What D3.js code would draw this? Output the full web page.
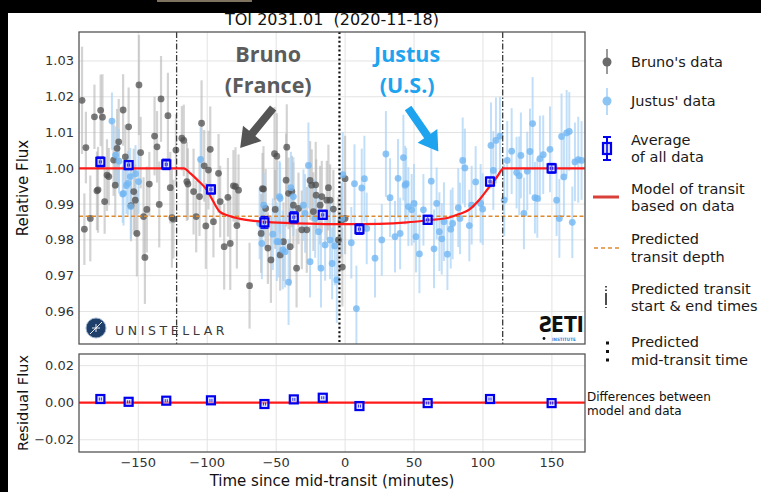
<!DOCTYPE html>
<html lang="en">
<head>
<meta charset="UTF-8">
<title>TOI 2031.01 (2020-11-18)</title>
<script src="https://d3js.org/d3.v7.min.js"></script>
<style>
    body { margin: 0; background: #fff; }
    svg { display: block; font-family: "DejaVu Sans", sans-serif; }
    .tick-label { font-size: 13px; fill: #333; }
    .legend-text { font-size: 14.5px; fill: #1a1a1a; }
    .grid { stroke: #e3e3e3; stroke-width: 1; }
    .frame { fill: none; stroke: #555; stroke-width: 1.3; }
</style>
</head>
<body>
<svg width="761" height="492"></svg>
<script>
    // Bruno's data (France)
    const brunoTime = [-190.8, -188.0, -189.1, -184.8, -181.8, -180.0, -179.2, -177.3, -176.0, -174.4,
        -172.7, -171.4, -167.9, -166.7, -165.4, -164.2, -161.0, -159.4, -157.0, -155.3,
        -153.3, -152.2, -151.0, -149.5, -148.3, -146.2, -145.2, -143.8, -142.0, -138.2,
        -136.4, -134.8, -133.5, -128.5, -126.8, -125.6, -124.5, -122.7, -118.4, -117.0,
        -114.8, -114.0, -109.9, -108.0, -105.6, -104.1, -102.2, -101.0, -99.1, -97.8,
        -95.5, -91.8, -90.6, -87.7, -85.0, -83.3, -81.0, -79.5, -78.5, -77.3,
        -69.3, -60.9, -59.9, -59.2, -57.6, -56.0, -53.8, -51.2, -50.7, -49.5,
        -47.1, -44.7, -42.8, -42.3, -41.0, -39.9, -38.6, -37.5, -35.2, -33.8,
        -31.4, -27.8, -25.4, -24.2, -23.0, -21.3, -21.0, -18.1, -16.9, -13.3,
        -12.1, -10.9, -8.5, -4.8, -2.9, -2.0, 0.0, 0.0];
    const brunoFlux = [1.0190, 1.0058, 0.9830, 0.9860, 1.0144, 0.9937, 0.9940, 1.0162, 1.0143, 0.9907,
        0.9981, 0.9977, 1.0023, 0.9953, 1.0056, 1.0074, 1.0163, 1.0032, 1.0116, 0.9896,
        0.9935, 0.9911, 0.9818, 1.0233, 1.0044, 0.9865, 0.9751, 0.9885, 0.9956, 1.0090,
        1.0060, 0.9899, 1.0194, 1.0147, 0.9946, 0.9862, 0.9858, 1.0051, 1.0084, 1.0078,
        0.9963, 0.9956, 0.9935, 0.9865, 0.9921, 1.0126, 1.0007, 0.9839, 0.9995, 1.0053,
        0.9851, 0.9986, 0.9907, 0.9781, 0.9919, 0.9790, 0.9951, 0.9949, 0.9840, 0.9939,
        0.9672, 0.9818, 0.9943, 0.9942, 0.9888, 0.9777, 0.9744, 1.0041, 0.9885, 1.0034,
        0.9758, 0.9795, 0.9967, 1.0059, 0.9930, 0.9781, 0.9935, 0.9897, 0.9721, 0.9888,
        0.9828, 0.9828, 0.9966, 0.9953, 0.9879, 0.9954, 0.9925, 0.9897, 0.9921, 0.9911,
        0.9946, 0.9911, 0.9886, 0.9800, 0.9851, 0.9724, 0.9860, 0.9971];
    const brunoErr = [0.015, 0.010, 0.010, 0.012, 0.009, 0.011, 0.012, 0.010, 0.012, 0.009,
        0.010, 0.008, 0.010, 0.009, 0.011, 0.012, 0.010, 0.009, 0.011, 0.010,
        0.012, 0.010, 0.012, 0.014, 0.010, 0.011, 0.013, 0.012, 0.009, 0.011,
        0.010, 0.012, 0.012, 0.012, 0.010, 0.014, 0.011, 0.010, 0.009, 0.010,
        0.011, 0.010, 0.012, 0.010, 0.011, 0.012, 0.010, 0.012, 0.011, 0.012,
        0.010, 0.011, 0.010, 0.012, 0.011, 0.013, 0.010, 0.011, 0.012, 0.010,
        0.012, 0.011, 0.010, 0.012, 0.011, 0.010, 0.012, 0.013, 0.011, 0.012,
        0.010, 0.011, 0.013, 0.012, 0.010, 0.011, 0.010, 0.012, 0.011, 0.010,
        0.011, 0.012, 0.011, 0.010, 0.011, 0.012, 0.010, 0.011, 0.010, 0.011,
        0.012, 0.010, 0.011, 0.012, 0.010, 0.011, 0.010, 0.012];

    // Justus' data (U.S.)
    const justusTime = [-169.1, -166.5, -164.0, -161.3, -160.7, -158.6, -157.5, -155.8, -155.4, -152.0,
        -149.8, -104.8, -62.0, -60.4, -59.0, -52.4, -49.5, -48.3, -47.6, -47.1,
        -45.2, -43.5, -41.0, -39.3, -37.5, -30.2, -29.0, -26.6, -25.4, -21.7,
        -19.3, -17.5, -14.5, -10.9, -9.4, -7.5, -6.0, -2.4, -1.7, 4.5,
        6.8, 8.2, 12.1, 14.0, 15.7, 21.7, 26.6, 29.6, 32.6, 36.2,
        38.4, 39.9, 42.3, 43.5, 44.3, 45.9, 48.3, 50.0, 51.4, 53.9,
        56.8, 62.5, 64.5, 66.4, 68.4, 70.1, 71.7, 74.2, 76.6, 78.0,
        82.1, 83.3, 85.3, 86.9, 90.1, 91.8, 94.7, 98.3, 99.8, 105.8,
        107.5, 109.4, 112.3, 115.4, 117.6, 120.8, 124.4, 126.3, 127.5, 129.7,
        132.1, 134.1, 136.0, 137.7, 139.4, 141.3, 143.7, 148.6, 153.4, 155.4,
        157.0, 158.7, 160.7, 162.6, 164.8, 166.7, 169.1, 171.5];
    const justusFlux = [1.0132, 1.0037, 1.0020, 0.9928, 0.9930, 0.9952, 0.9958, 0.9977, 0.9893, 0.9985,
        0.9963, 1.0025, 0.9846, 0.9790, 0.9897, 0.9816, 0.9795, 0.9795, 0.9921, 0.9916,
        0.9772, 0.9767, 0.9682, 0.9946, 0.9921, 0.9897, 0.9874, 1.0008, 0.9739, 0.9860,
        0.9823, 0.9721, 0.9786, 0.9800, 0.9734, 0.9783, 0.9688, 0.9860, 0.9982, 0.9792,
        0.9957, 0.9608, 0.9945, 0.9971, 0.9832, 0.9749, 0.9800, 1.0040, 0.9918, 0.9809,
        0.9972, 0.9818, 1.0030, 0.9953, 0.9957, 0.9893, 0.9884, 0.9902, 0.9809, 0.9761,
        0.9884, 0.9964, 0.9775, 0.9902, 0.9823, 0.9803, 0.9851, 0.9760, 0.9830, 0.9846,
        0.9890, 0.9860, 1.0022, 1.0001, 0.9840, 0.9897, 0.9962, 0.9902, 0.9886, 1.0064,
        0.9994, 1.0078, 1.0090, 0.9911, 1.0022, 1.0048, 0.9988, 0.9979, 1.0036, 0.9874,
        0.9992, 1.0047, 1.0125, 0.9918, 0.9916, 1.0027, 1.0038, 1.0053, 0.9911, 0.9860,
        1.0089, 0.9976, 1.0099, 1.0103, 0.9849, 1.0018, 1.0024, 1.0022];
    const justusErr = [0.008, 0.008, 0.009, 0.008, 0.009, 0.008, 0.009, 0.008, 0.009, 0.008,
        0.009, 0.009, 0.010, 0.010, 0.009, 0.010, 0.011, 0.010, 0.010, 0.010,
        0.011, 0.010, 0.012, 0.010, 0.011, 0.010, 0.011, 0.012, 0.010, 0.011,
        0.010, 0.011, 0.010, 0.011, 0.010, 0.011, 0.012, 0.010, 0.012, 0.010,
        0.011, 0.012, 0.011, 0.012, 0.010, 0.011, 0.010, 0.012, 0.011, 0.010,
        0.011, 0.010, 0.012, 0.011, 0.010, 0.011, 0.010, 0.011, 0.010, 0.011,
        0.010, 0.012, 0.011, 0.010, 0.011, 0.010, 0.011, 0.010, 0.011, 0.010,
        0.011, 0.010, 0.012, 0.011, 0.010, 0.011, 0.010, 0.011, 0.010, 0.012,
        0.011, 0.012, 0.011, 0.010, 0.011, 0.012, 0.010, 0.011, 0.012, 0.010,
        0.011, 0.012, 0.013, 0.010, 0.011, 0.012, 0.011, 0.012, 0.010, 0.011,
        0.012, 0.011, 0.012, 0.011, 0.010, 0.011, 0.012, 0.011];

    // binned average of all data, and residuals (data - model)
    const avgTime = [-177.5, -157.0, -129.7, -97.3, -58.5, -37.2, -16.2, 10.4, 59.9, 105.1, 149.8];
    const avgFlux = [1.0018, 1.0009, 1.0011, 0.9941, 0.9849, 0.9863, 0.9870, 0.9830, 0.9856, 0.9963, 1.0000];
    const avgErr = [0.0013, 0.0012, 0.0014, 0.0012, 0.0016, 0.0015, 0.0012, 0.0014, 0.0012, 0.0012, 0.0013];
    const residual = [0.0020, 0.0005, 0.0011, 0.0013, -0.0007, 0.0018, 0.0027, -0.0018, -0.0002, 0.0020, -0.0002];

    // transit model
    const modelTime = [-193, -117, -112, -107, -100, -96, -91, -85, -75, -60, -40, -20, 0, 25, 45, 60, 75, 84, 89, 98, 104, 110, 115, 174];
    const modelFlux = [1.0000, 1.0000, 0.9985, 0.9967, 0.9938, 0.9910, 0.9879, 0.9868, 0.9858, 0.9851, 0.9847, 0.9845,
        0.9844, 0.9845, 0.9849, 0.9855, 0.9862, 0.9874, 0.9882, 0.9915, 0.9945, 0.9975, 1.0000, 1.0000];

    const predictedDepth = 0.9866;
    const predictedStartEnd = [-122.2, 114.3];
    const predictedMid = -4.1;

    const xTicks = [-150, -100, -50, 0, 50, 100, 150];
    const yTicks = [0.96, 0.97, 0.98, 0.99, 1.00, 1.01, 1.02, 1.03];
    const resTicks = [-0.02, 0.00, 0.02];

    const svg = d3.select("svg");
    const W = 761, H = 492;

    // black frame of the original screenshot
    svg.append("rect").attr("width", W).attr("height", H).attr("fill", "#fff");
    svg.append("rect").attr("width", W).attr("height", 13).attr("fill", "#000");
    svg.append("rect").attr("width", 8).attr("height", H).attr("fill", "#000");
    svg.append("rect").attr("x", 157).attr("width", 95).attr("height", 2).attr("fill", "#7d735e");

    const left = 79, right = 585;
    const x = d3.scaleLinear().domain([-193, 174]).range([left, right]);
    const y = d3.scaleLinear().domain([0.9509, 1.0381]).range([344, 32]);
    const yr = d3.scaleLinear().domain([-0.0266, 0.0263]).range([452, 354]);

    const minus = s => s.replace("-", "\u2212");

    function panel(yScale, ticks, fmt) {
        const g = svg.append("g");
        const [b, t] = yScale.range();
        g.append("defs").append("clipPath").attr("id", "clip" + b)
            .append("rect").attr("x", left).attr("y", t).attr("width", right - left).attr("height", b - t);
        g.selectAll(".gx").data(xTicks).enter().append("line").attr("class", "grid")
            .attr("x1", d => x(d)).attr("x2", d => x(d)).attr("y1", t).attr("y2", b);
        g.selectAll(".gy").data(ticks).enter().append("line").attr("class", "grid")
            .attr("x1", left).attr("x2", right).attr("y1", d => yScale(d)).attr("y2", d => yScale(d));
        svg.selectAll(null).data(ticks).enter().append("text").attr("class", "tick-label")
            .attr("x", left - 5).attr("y", d => yScale(d) + 4.5).attr("text-anchor", "end")
            .text(d => minus(fmt(d)));
        return g.append("g").attr("clip-path", `url(#clip${b})`);
    }

    // ---------- main panel ----------
    const main = panel(y, yTicks, d3.format(".2f"));

    const bruno = brunoTime.map((t, i) => ({t, f: brunoFlux[i], e: brunoErr[i]}));
    const justus = justusTime.map((t, i) => ({t, f: justusFlux[i], e: justusErr[i]}));

    main.selectAll(".bb").data(bruno).enter().append("line")
        .attr("x1", d => x(d.t)).attr("x2", d => x(d.t))
        .attr("y1", d => y(d.f - d.e)).attr("y2", d => y(d.f + d.e))
        .attr("stroke", "#b5b5b5").attr("stroke-opacity", 0.6).attr("stroke-width", 2.2);
    main.selectAll(".jb").data(justus).enter().append("line")
        .attr("x1", d => x(d.t)).attr("x2", d => x(d.t))
        .attr("y1", d => y(d.f - d.e)).attr("y2", d => y(d.f + d.e))
        .attr("stroke", "#a8d2f7").attr("stroke-opacity", 0.7).attr("stroke-width", 2);
    main.selectAll(".bd").data(bruno).enter().append("circle")
        .attr("cx", d => x(d.t)).attr("cy", d => y(d.f)).attr("r", 3.4)
        .attr("fill", "#4f4f4f").attr("fill-opacity", 0.75);
    main.selectAll(".jd").data(justus).enter().append("circle")
        .attr("cx", d => x(d.t)).attr("cy", d => y(d.f)).attr("r", 3.4)
        .attr("fill", "#72b6f2").attr("fill-opacity", 0.8);

    // predicted depth, start/end, mid
    main.append("line").attr("x1", left).attr("x2", right)
        .attr("y1", y(predictedDepth)).attr("y2", y(predictedDepth))
        .attr("stroke", "#dd8a2e").attr("stroke-width", 1.3).attr("stroke-dasharray", "4,2.5");
    main.selectAll(".se").data(predictedStartEnd).enter().append("line")
        .attr("x1", d => x(d)).attr("x2", d => x(d)).attr("y1", 32).attr("y2", 344)
        .attr("stroke", "#3a3a3a").attr("stroke-width", 1.3).attr("stroke-dasharray", "6,2,1.5,2");
    main.append("line").attr("x1", x(predictedMid)).attr("x2", x(predictedMid)).attr("y1", 32).attr("y2", 344)
        .attr("stroke", "#111").attr("stroke-width", 2.2).attr("stroke-dasharray", "2,2.4");

    // model
    const model = modelTime.map((t, i) => ({t, f: modelFlux[i]}));
    main.append("path").datum(model)
        .attr("d", d3.line().x(d => x(d.t)).y(d => y(d.f)).curve(d3.curveMonotoneX))
        .attr("fill", "none").attr("stroke", "#ff1a1a").attr("stroke-width", 2.2);

    // averages
    function avgMarkers(g, vals, yScale, withErr) {
        const data = avgTime.map((t, i) => ({t, v: vals[i], e: avgErr[i]}));
        const m = g.selectAll(null).data(data).enter().append("g")
            .attr("transform", d => `translate(${x(d.t)},${yScale(d.v)})`);
        if (withErr) {
            m.append("line").attr("y1", d => yScale(d.v - d.e) - yScale(d.v)).attr("y2", d => yScale(d.v + d.e) - yScale(d.v))
                .attr("stroke", "#0000ee").attr("stroke-width", 1.6);
            m.append("line").attr("x1", -4).attr("x2", 4).attr("y1", d => yScale(d.v + d.e) - yScale(d.v)).attr("y2", d => yScale(d.v + d.e) - yScale(d.v))
                .attr("stroke", "#0000ee").attr("stroke-width", 1.6);
            m.append("line").attr("x1", -4).attr("x2", 4).attr("y1", d => yScale(d.v - d.e) - yScale(d.v)).attr("y2", d => yScale(d.v - d.e) - yScale(d.v))
                .attr("stroke", "#0000ee").attr("stroke-width", 1.6);
        }
        m.append("rect").attr("x", -4).attr("y", -4).attr("width", 8).attr("height", 8)
            .attr("fill", "#cfd8ff").attr("fill-opacity", 0.6).attr("stroke", "#0000ee").attr("stroke-width", 2.2);
        m.append("line").attr("x1", -1).attr("x2", -1).attr("y1", -1.5).attr("y2", 1.5).attr("stroke", "#0000ee").attr("stroke-width", 0.8);
        m.append("line").attr("x1", 1).attr("x2", 1).attr("y1", -1.5).attr("y2", 1.5).attr("stroke", "#0000ee").attr("stroke-width", 0.8);
    }
    avgMarkers(main, avgFlux, y, true);

    svg.append("rect").attr("class", "frame").attr("x", left).attr("y", 32).attr("width", right - left).attr("height", 312);

    // ---------- residual panel ----------
    const res = panel(yr, resTicks, d3.format(".2f"));
    res.append("line").attr("x1", left).attr("x2", right).attr("y1", yr(0)).attr("y2", yr(0))
        .attr("stroke", "#ff1a1a").attr("stroke-width", 2.2);
    avgMarkers(res, residual, yr, false);
    svg.append("rect").attr("class", "frame").attr("x", left).attr("y", 354).attr("width", right - left).attr("height", 98);

    svg.selectAll(null).data(xTicks).enter().append("text").attr("class", "tick-label")
        .attr("x", d => x(d)).attr("y", 467).attr("text-anchor", "middle").text(d => minus(String(d)));

    // ---------- titles ----------
    svg.append("text").attr("x", 332).attr("y", 25).attr("text-anchor", "middle")
        .attr("font-size", 16).attr("fill", "#111").style("white-space", "pre").text("TOI 2031.01  (2020-11-18)");
    svg.append("text").attr("x", (left + right) / 2).attr("y", 486).attr("text-anchor", "middle")
        .attr("font-size", 15).attr("fill", "#111").text("Time since mid-transit (minutes)");
    svg.append("text").attr("transform", `translate(28,${(32 + 344) / 2}) rotate(-90)`).attr("text-anchor", "middle")
        .attr("font-size", 15).attr("fill", "#111").text("Relative Flux");
    svg.append("text").attr("transform", `translate(28,${(354 + 452) / 2}) rotate(-90)`).attr("text-anchor", "middle")
        .attr("font-size", 14.5).attr("fill", "#111").text("Residual Flux");

    // ---------- observer annotations ----------
    const ann = svg.append("g").attr("font-family", "Open Sans, sans-serif").attr("font-weight", 700)
        .attr("font-size", 21.5).attr("text-anchor", "middle");
    ann.append("text").attr("x", x(-55.8)).attr("y", y(1.0297)).attr("fill", "#5c5c5c").text("Bruno");
    ann.append("text").attr("x", x(-55.8)).attr("y", y(1.0210)).attr("fill", "#5c5c5c").text("(France)");
    ann.append("text").attr("x", x(45.0)).attr("y", y(1.0297)).attr("fill", "#1ea3ee").text("Justus");
    ann.append("text").attr("x", x(45.0)).attr("y", y(1.0210)).attr("fill", "#1ea3ee").text("(U.S.)");

    function arrow(t0, f0, t1, f1, color) {
        const x0 = x(t0), y0 = y(f0), x1 = x(t1), y1 = y(f1);
        const dx = x1 - x0, dy = y1 - y0, L = Math.hypot(dx, dy);
        const ux = dx / L, uy = dy / L, px = -uy, py = ux;
        const hl = 19, hw = 12, sw = 4;
        const bx = x1 - ux * hl, by = y1 - uy * hl;
        const pts = [
            [x0 + px * sw, y0 + py * sw], [bx + px * sw, by + py * sw], [bx + px * hw, by + py * hw],
            [x1, y1], [bx - px * hw, by - py * hw], [bx - px * sw, by - py * sw], [x0 - px * sw, y0 - py * sw]
        ];
        svg.append("polygon").attr("points", pts.map(p => p.join(",")).join(" ")).attr("fill", color);
    }
    arrow(-52.2, 1.01684, -76.1, 1.00567, "#555");
    arrow(45.7, 1.01684, 67.6, 1.00469, "#1ea3ee");

    // ---------- logos ----------
    const uni = svg.append("g");
    uni.append("circle").attr("cx", 96).attr("cy", 328).attr("r", 10).attr("fill", "#1f3f6b");
    uni.append("circle").attr("cx", 96).attr("cy", 328).attr("r", 10).attr("fill", "none").attr("stroke", "#9fb3cc").attr("stroke-width", 1);
    uni.append("path").attr("d", "M90,334 L102,322 M96,324 L96,332 M92,328 L100,328")
        .attr("stroke", "#fff").attr("stroke-width", 0.9);
    uni.append("text").attr("x", 115).attr("y", 335).attr("font-size", 12.5).attr("letter-spacing", 3.6)
        .attr("fill", "#3a3a3a").text("UNISTELLAR");

    const seti = svg.append("g").attr("font-family", "DejaVu Sans Condensed, DejaVu Sans, sans-serif").attr("font-weight", 700);
    seti.append("text").attr("transform", "translate(552,332) scale(-1,1)").attr("font-size", 21).attr("fill", "#111").text("S");
    seti.append("text").attr("x", 551).attr("y", 332).attr("font-size", 21).attr("fill", "#111").text("ETI");
    seti.append("circle").attr("cx", 544).attr("cy", 338.5).attr("r", 1.4).attr("fill", "#111");
    seti.append("text").attr("x", 552).attr("y", 340.5).attr("font-size", 4.5).attr("fill", "#3c7fd8").text("INSTITUTE");

    // ---------- legend ----------
    const lg = svg.append("g");
    const lx = 607, tx = 631;
    // Bruno
    lg.append("line").attr("x1", lx).attr("x2", lx).attr("y1", 49).attr("y2", 74).attr("stroke", "#9a9a9a").attr("stroke-width", 2);
    lg.append("circle").attr("cx", lx).attr("cy", 62).attr("r", 4.5).attr("fill", "#6a6a6a");
    lg.append("text").attr("class", "legend-text").attr("x", tx).attr("y", 67).text("Bruno's data");
    // Justus
    lg.append("line").attr("x1", lx).attr("x2", lx).attr("y1", 88).attr("y2", 115).attr("stroke", "#b9dcfa").attr("stroke-width", 2);
    lg.append("circle").attr("cx", lx).attr("cy", 101).attr("r", 4.5).attr("fill", "#8cc4f4");
    lg.append("text").attr("class", "legend-text").attr("x", tx).attr("y", 106).text("Justus' data");
    // Average
    lg.append("line").attr("x1", lx).attr("x2", lx).attr("y1", 137).attr("y2", 160).attr("stroke", "#0000ee").attr("stroke-width", 2);
    lg.append("line").attr("x1", lx - 4).attr("x2", lx + 4).attr("y1", 137).attr("y2", 137).attr("stroke", "#0000ee").attr("stroke-width", 2);
    lg.append("line").attr("x1", lx - 4).attr("x2", lx + 4).attr("y1", 160).attr("y2", 160).attr("stroke", "#0000ee").attr("stroke-width", 2);
    lg.append("rect").attr("x", lx - 4).attr("y", 143).attr("width", 8).attr("height", 11)
        .attr("fill", "#dfe4ff").attr("stroke", "#0000ee").attr("stroke-width", 2.2);
    lg.append("line").attr("x1", lx).attr("x2", lx).attr("y1", 143).attr("y2", 154).attr("stroke", "#0000ee").attr("stroke-width", 1.5);
    lg.append("text").attr("class", "legend-text").attr("x", tx).attr("y", 145).text("Average");
    lg.append("text").attr("class", "legend-text").attr("x", tx).attr("y", 162).text("of all data");
    // Model
    lg.append("line").attr("x1", 593).attr("x2", 619).attr("y1", 197).attr("y2", 197).attr("stroke", "#d9403a").attr("stroke-width", 3);
    lg.append("text").attr("class", "legend-text").attr("x", tx).attr("y", 194).text("Model of transit");
    lg.append("text").attr("class", "legend-text").attr("x", tx).attr("y", 211).text("based on data");
    // Depth
    lg.append("line").attr("x1", 594).attr("x2", 619).attr("y1", 248).attr("y2", 248).attr("stroke", "#dd8a2e")
        .attr("stroke-width", 1.5).attr("stroke-dasharray", "4,3");
    lg.append("text").attr("class", "legend-text").attr("x", tx).attr("y", 244).text("Predicted");
    lg.append("text").attr("class", "legend-text").attr("x", tx).attr("y", 262).text("transit depth");
    // Start & end
    lg.append("line").attr("x1", 606).attr("x2", 606).attr("y1", 286).attr("y2", 308).attr("stroke", "#222")
        .attr("stroke-width", 1.6).attr("stroke-dasharray", "1.5,2,1.5,2,12,2");
    lg.append("text").attr("class", "legend-text").attr("x", tx).attr("y", 294).text("Predicted transit");
    lg.append("text").attr("class", "legend-text").attr("x", tx).attr("y", 311).text("start & end times");
    // Mid
    lg.selectAll(null).data([343, 351.5, 360]).enter().append("rect")
        .attr("x", 606).attr("y", d => d - 1.5).attr("width", 3).attr("height", 3).attr("fill", "#111");
    lg.append("text").attr("class", "legend-text").attr("x", tx).attr("y", 347).text("Predicted");
    lg.append("text").attr("class", "legend-text").attr("x", tx).attr("y", 365).text("mid-transit time");

    // residual note
    svg.append("text").attr("x", 587).attr("y", 401).attr("font-size", 12).attr("fill", "#111").text("Differences between");
    svg.append("text").attr("x", 587).attr("y", 415).attr("font-size", 12).attr("fill", "#111").text("model and data");
</script>
</body>
</html>
